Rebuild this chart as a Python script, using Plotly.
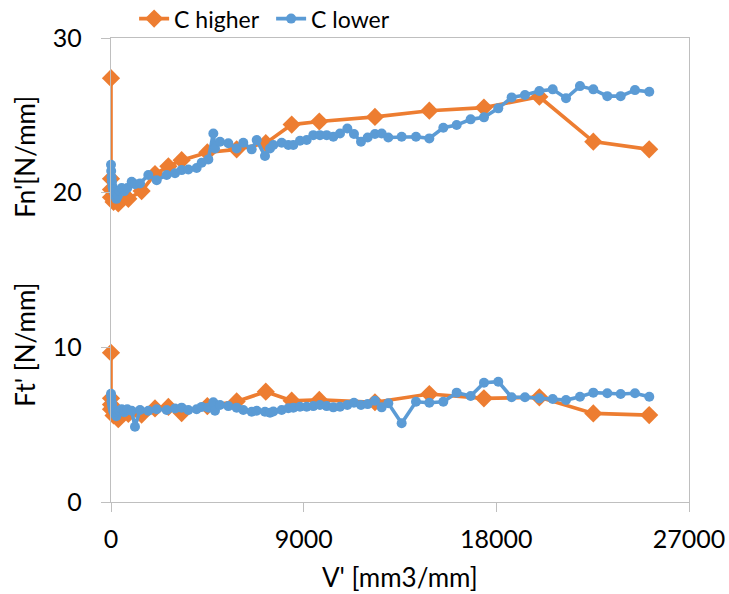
import plotly.graph_objects as go

# Cumulative removed volume V' [mm3/mm] and specific forces for the two C settings
v_higher = [0, 0, 0, 0, 120, 340, 810, 1430, 2055, 2680, 3300, 4500, 5870, 7230,
            8440, 9730, 12330, 14870, 17420, 20010, 22530, 25140]
fn_higher = [27.4, 20.9, 20.2, 19.7, 19.4, 19.3, 19.6, 20.1, 21.2, 21.7, 22.1, 22.6,
             22.8, 23.2, 24.4, 24.6, 24.9, 25.3, 25.5, 26.2, 23.3, 22.8]
ft_higher = [9.65, 6.7, 6.3, 6.0, 5.6, 5.35, 5.7, 5.65, 6.05, 6.15, 5.75, 6.2,
             6.5, 7.13, 6.55, 6.6, 6.45, 6.98, 6.7, 6.77, 5.73, 5.62]

v_lower = [0, 10, 25, 45, 70, 100, 140, 190, 250, 320, 400, 500, 620, 760,
           966, 1120, 1355, 1744, 2134, 2600, 2990, 3300, 3612, 4000, 4236, 4547,
           4780, 4858, 5091, 5480, 5870, 6180, 6572, 6806, 7193, 7427, 7583, 7973,
           8283, 8517, 8828, 9140, 9450, 9762, 10075,
           10385, 10697, 11040, 11350, 11678, 11990, 12331, 12643, 12954, 13577,
           14247, 14870, 15523, 16147, 16801, 17423, 18091, 18714, 19338, 20010,
           20633, 21255, 21907, 22530, 23183, 23808, 24476, 25144]
fn_lower = [21.8, 21.4, 21.0, 20.7, 20.4, 20.2, 20.0, 19.8, 19.6, 19.8, 20.1, 20.3, 20.1, 20.3,
            20.7, 20.55, 20.6, 21.14, 20.8, 21.14, 21.25, 21.46, 21.5, 21.6, 21.93, 22.15,
            23.83, 22.86, 23.29, 23.19, 22.86, 23.23, 22.8, 23.4, 22.37, 22.86, 23.08, 23.23,
            23.08, 23.08, 23.36, 23.4, 23.72, 23.72, 23.72,
            23.62, 23.83, 24.15, 23.79, 23.29, 23.57, 23.79, 23.83, 23.57, 23.62,
            23.62, 23.51, 24.2, 24.37, 24.74, 24.87, 25.45, 26.16, 26.31, 26.57,
            26.68, 26.1, 26.89, 26.68, 26.24, 26.24, 26.63, 26.52]
ft_lower = [7.0, 6.8, 6.5, 6.3, 6.1, 5.9, 5.8, 5.7, 5.55, 5.8, 5.9, 6.0, 5.8, 6.0,
            5.9, 4.87, 5.95, 5.9, 6.0, 5.95, 6.05, 6.1, 5.95, 6.0, 6.15, 6.1,
            6.45, 5.9, 6.27, 6.2, 6.1, 5.95, 5.84, 5.9, 5.84, 5.77, 5.85, 5.95,
            6.06, 6.1, 6.16, 6.16, 6.2, 6.27, 6.2,
            6.12, 6.16, 6.27, 6.42, 6.27, 6.33, 6.55, 6.12, 6.38, 5.09,
            6.48, 6.42, 6.48, 7.07, 6.85, 7.71, 7.78, 6.77, 6.77, 6.70,
            6.66, 6.59, 6.81, 7.07, 7.03, 6.98, 7.03, 6.81]

x_ticks = [0, 9000, 18000, 27000]
y_ticks = [0, 10, 20, 30]

ORANGE = "#ED7D31"
BLUE = "#5B9BD5"
AXIS_GREY = "#BFBFBF"
FONT = "Lato"

fig = go.Figure()


def add_series(x, y, name, color, symbol, size, show):
    fig.add_trace(go.Scatter(
        x=x, y=y, mode="lines+markers", name=name,
        legendgroup=name, showlegend=show, cliponaxis=False,
        line=dict(color=color, width=3.6),
        marker=dict(color=color, symbol=symbol, size=size, line=dict(width=0)),
    ))


add_series(v_higher, fn_higher, "C higher", ORANGE, "diamond", 14, True)
add_series(v_higher, ft_higher, "C higher", ORANGE, "diamond", 14, False)
add_series(v_lower, fn_lower, "C lower", BLUE, "circle", 10, True)
add_series(v_lower, ft_lower, "C lower", BLUE, "circle", 10, False)

axis_common = dict(
    showline=True, linecolor=AXIS_GREY, linewidth=1.3, mirror=True,
    ticks="outside", ticklen=9, tickcolor=AXIS_GREY, tickwidth=1.3,
    showgrid=False, zeroline=False,
    tickfont=dict(family=FONT, size=25, color="#000000"),
)

fig.update_xaxes(range=[0, 27000], tickvals=x_ticks,
                 ticktext=[str(t) for t in x_ticks],
                 ticklabelstandoff=6, **axis_common)
fig.update_yaxes(range=[0, 30], tickvals=y_ticks,
                 ticktext=[str(t) for t in y_ticks],
                 ticklabelstandoff=14, **axis_common)

# Axis titles: one x title, two stacked y titles for the normal and tangential force
title_font = dict(family=FONT, size=26, color="#000000")
fig.add_annotation(text="V' [mm3/mm]", xref="paper", yref="paper",
                   x=0.5, y=-0.162, xanchor="center", yanchor="middle",
                   showarrow=False, font=title_font)
fig.add_annotation(text="Fn'[N/mm]", xref="paper", yref="paper",
                   x=-0.148, y=0.745, xanchor="center", yanchor="middle", textangle=-90,
                   showarrow=False, font=title_font)
fig.add_annotation(text="Ft' [N/mm]", xref="paper", yref="paper",
                   x=-0.148, y=0.34, xanchor="center", yanchor="middle", textangle=-90,
                   showarrow=False, font=title_font)

fig.update_layout(
    width=729, height=594,
    margin=dict(l=111, r=40, t=38, b=92, autoexpand=False),
    paper_bgcolor="white", plot_bgcolor="white",
    showlegend=True,
    legend=dict(orientation="h", x=0.04, y=1.088, xanchor="left", yanchor="top",
                font=dict(family=FONT, size=23, color="#000000"),
                bgcolor="rgba(0,0,0,0)", itemwidth=30, entrywidth=92,
                tracegroupgap=0),
)

fig.write_html("out.html")
